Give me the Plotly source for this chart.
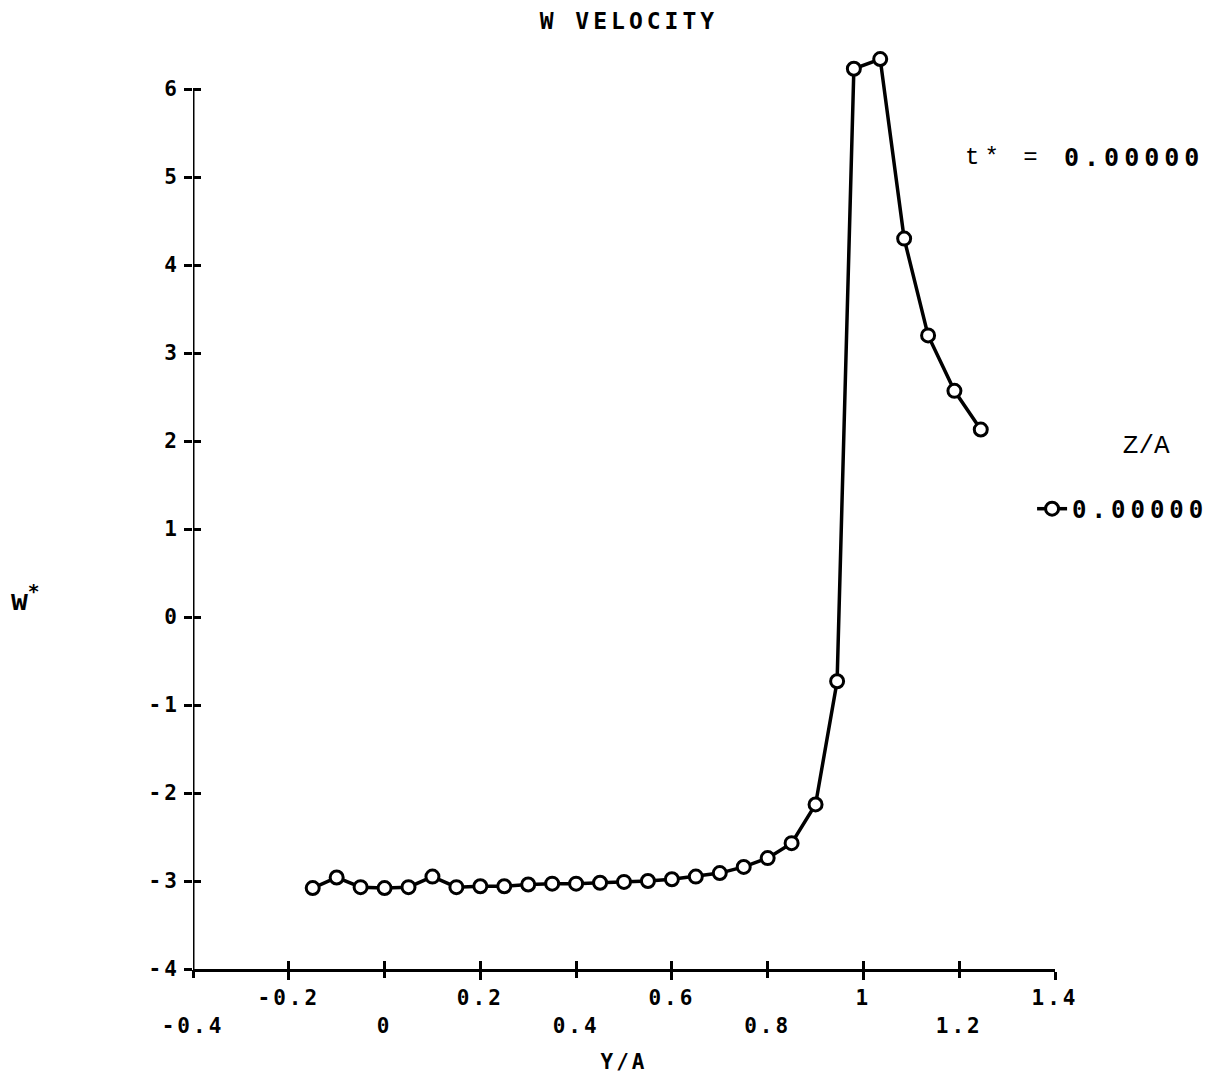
import plotly.graph_objects as go

# W velocity profile across Y/A at Z/A = 0, t* = 0
y_over_a = [-0.15, -0.10, -0.05, 0.00, 0.05, 0.10, 0.15, 0.20, 0.25, 0.30,
            0.35, 0.40, 0.45, 0.50, 0.55, 0.60, 0.65, 0.70, 0.75, 0.80,
            0.85, 0.90, 0.945, 0.98, 1.035, 1.085, 1.135, 1.19, 1.245]
w_star = [-3.08, -2.96, -3.07, -3.08, -3.07, -2.95, -3.07, -3.06, -3.06, -3.04,
          -3.03, -3.03, -3.02, -3.01, -3.00, -2.98, -2.95, -2.91, -2.84, -2.74,
          -2.57, -2.13, -0.73, 6.23, 6.34, 4.30, 3.20, 2.57, 2.13]

series_name = "0.00000"
time_label = "0.00000"

x_ticks_upper = [-0.2, 0.2, 0.6, 1.0, 1.4]
x_labels_upper = ["-0.2", "0.2", "0.6", "1", "1.4"]
x_ticks_lower = [-0.4, 0.0, 0.4, 0.8, 1.2]
x_labels_lower = ["-0.4", "0", "0.4", "0.8", "1.2"]
x_ticks_all = [-0.4, -0.2, 0.0, 0.2, 0.4, 0.6, 0.8, 1.0, 1.2, 1.4]
y_ticks = [-4, -3, -2, -1, 0, 1, 2, 3, 4, 5, 6]
y_labels = ["-4", "-3", "-2", "-1", "0", "1", "2", "3", "4", "5", "6"]

PLOT_FONT = "DejaVu Sans Mono"
THIN_FONT = "Liberation Mono"
INK = "black"

# axis extent; the view reaches a little above the top tick so the peak shows
x_range = [-0.4, 1.4]
y_axis_span = [-4, 6]
y_view = [-4, 6.5]


def spaced(s, px=3):
    return f'<span style="letter-spacing:{px}px">{s}</span>'


fig = go.Figure()
fig.add_trace(go.Scatter(
    x=y_over_a, y=w_star, mode="lines+markers", name=spaced(series_name, 5),
    line=dict(color=INK, width=3.5),
    marker=dict(symbol="circle", size=13, color="white",
                line=dict(color=INK, width=3)),
    cliponaxis=False,
))

# empty traces so the overlaid tick axes get drawn
for xa, ya in (("x2", "y"), ("x3", "y"), ("x", "y2")):
    fig.add_trace(go.Scatter(x=[None], y=[None], xaxis=xa, yaxis=ya,
                             mode="markers", showlegend=False,
                             hoverinfo="skip"))

tick_font = dict(family=PLOT_FONT, size=21, color=INK, weight="bold")
common = dict(showgrid=False, zeroline=False, automargin=False,
              tickmode="array", tickwidth=3, tickcolor=INK, ticklen=8)

fig.update_layout(
    width=1226, height=1077,
    margin=dict(l=193, r=168, t=45, b=108),
    paper_bgcolor="white", plot_bgcolor="white",
    title=dict(text=spaced("W VELOCITY", 4), x=620 / 1226, xref="paper",
               xanchor="center", y=1 - 21 / 1077, yanchor="middle",
               font=dict(family=PLOT_FONT, size=23, color=INK, weight="bold")),
    xaxis=dict(range=x_range, showline=True, linecolor=INK, linewidth=3,
               tickvals=x_ticks_upper,
               ticktext=[spaced(t) for t in x_labels_upper],
               ticks="outside", tickfont=tick_font,
               title=dict(text=spaced("Y/A"), standoff=46,
                          font=dict(family=PLOT_FONT, size=21, color=INK,
                                    weight="bold")),
               **common),
    xaxis2=dict(range=x_range, overlaying="x", anchor="y", side="bottom",
                showline=False, tickvals=x_ticks_lower,
                ticktext=[spaced(t) for t in x_labels_lower],
                ticks="outside", ticklabelstandoff=30, tickfont=tick_font,
                **common),
    xaxis3=dict(range=x_range, overlaying="x", anchor="y", side="bottom",
                showline=False, tickvals=x_ticks_all, showticklabels=False,
                ticks="inside", **common),
    yaxis=dict(range=y_view, showline=False, tickvals=y_ticks,
               ticktext=[spaced(t) for t in y_labels],
               ticks="outside", tickfont=tick_font, **common),
    yaxis2=dict(range=y_view, overlaying="y", anchor="x", side="left",
                showline=False, tickvals=y_ticks, showticklabels=False,
                ticks="inside", **common),
    showlegend=True,
    legend=dict(x=(1035 - 193) / 865, xanchor="left",
                y=1 - (419 - 45) / 924, yanchor="top",
                bgcolor="rgba(0,0,0,0)", borderwidth=0,
                title=dict(text="&nbsp;&nbsp;&nbsp;Z/A<br> ", side="top center",
                           font=dict(family=THIN_FONT, size=26, color=INK,
                                     weight="normal")),
                font=dict(family=PLOT_FONT, size=24, color=INK, weight="bold")),
)

# vertical axis line, ending at the top tick
fig.add_shape(type="line", xref="x", yref="y",
              x0=x_range[0], x1=x_range[0],
              y0=y_axis_span[0], y1=y_axis_span[1],
              line=dict(color=INK, width=3))

# time stamp and vertical-axis label
fig.add_annotation(text=spaced("t* =", 5), xref="paper", yref="paper",
                   x=(1048 - 193) / 865, xanchor="right",
                   y=1 - (157 - 45) / 924, yanchor="middle", showarrow=False,
                   font=dict(family=THIN_FONT, size=24, color=INK,
                             weight="normal"))
fig.add_annotation(text=spaced(time_label, 5), xref="paper", yref="paper",
                   x=(1210 - 193) / 865, xanchor="right",
                   y=1 - (157 - 45) / 924, yanchor="middle", showarrow=False,
                   font=dict(family=PLOT_FONT, size=25, color=INK, weight="bold"))
fig.add_annotation(text="w<sup>*</sup>", xref="paper", yref="paper",
                   x=(8 - 193) / 865, xanchor="left",
                   y=1 - (598 - 45) / 924, yanchor="middle", showarrow=False,
                   font=dict(family=PLOT_FONT, size=28, color=INK, weight="bold"))

fig.write_html("out.html")
